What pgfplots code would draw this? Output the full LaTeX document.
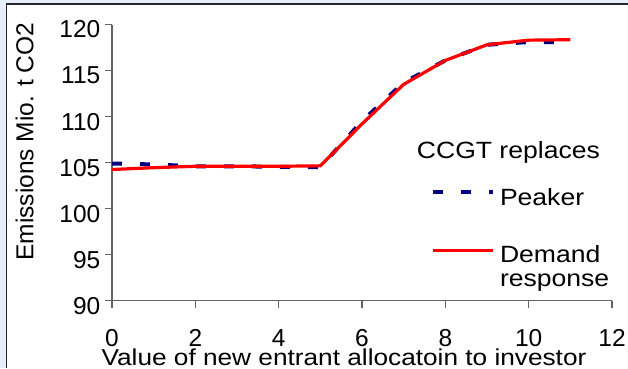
\documentclass[border=0pt]{standalone}
\usepackage{fontspec}
\setmainfont{Liberation Sans}
\usepackage{graphicx}
\usepackage{pgfplots}
\pgfplotsset{compat=1.18}
\definecolor{peaker}{RGB}{0,0,128}
\definecolor{dr}{RGB}{255,0,0}
\definecolor{framebg}{RGB}{230,238,250}
\definecolor{axisgray}{RGB}{100,100,100}
\begin{document}
\begin{tikzpicture}
\useasboundingbox (0,0) rectangle (628pt,-368pt);
\fill[framebg] (0,0) rectangle (628pt,-368pt);
\fill[white] (6.8pt,-4pt) rectangle (628pt,-368pt);
\draw[black!85, line width=1.2pt] (6.8pt,-368pt) -- (6.8pt,-4pt) -- (628pt,-4pt);
\begin{axis}[
  at={(112pt,-300.7pt)}, anchor=south west,
  scale only axis, width=500pt, height=276.2pt,
  xmin=0, xmax=12, ymin=90, ymax=120,
  xtick={0,2,4,6,8,10,12}, ytick={90,95,100,105,110,115,120},
  axis lines*=left,
  axis line style={axisgray, line width=1.2pt},
  tick style={axisgray, line width=1.2pt},
  tick align=outside, major tick length=7pt,
  /pgf/number format/assume math mode=true,
  ticklabel style={font=\fontsize{24.5}{28}\selectfont, inner sep=0pt},
  yticklabel style={xshift=-4.5pt, yshift=-5pt},
  xticklabel style={yshift=-21.5pt},
  xlabel={\scalebox{1.14}[1]{Value of new entrant allocatoin to investor}},
  xlabel style={at={(axis description cs:0.464,-0.2350)}, anchor=base, font=\fontsize{23}{27}\selectfont, inner sep=0pt},
  ylabel={Emissions Mio. t CO2},
  ylabel style={at={(axis description cs:-0.1574,0.5757)}, anchor=base, font=\fontsize{24.5}{28}\selectfont, inner sep=0pt},
  legend style={at={(axis description cs:0.638,0.408)}, anchor=north west, draw=none, fill=none, inner sep=0pt, outer sep=0pt, row sep=39.4pt, column sep=5pt, font=\fontsize{23.5}{23.3}\selectfont, nodes={inner sep=0pt, anchor=base west}},
  legend image code/.code={\draw[#1] (0pt,12.7pt) -- (60pt,12.7pt);},
  clip=false,
]
\addplot[peaker, line width=4pt, dash pattern=on 10pt off 18pt] coordinates {
 (0,104.9) (1,104.8) (2,104.6) (3,104.6) (4,104.55) (5,104.5) (6,109.5) (7,113.7) (8,116.1) (9,117.8) (10,118.1) (11,118.1)};
\addlegendentry{\scalebox{1.13}[1]{Peaker}}
\addplot[dr, line width=3.2pt] coordinates {
 (0,104.25) (1,104.45) (2,104.6) (3,104.6) (4,104.6) (5,104.65) (6,109.2) (7,113.5) (8,116.1) (9,117.8) (10,118.3) (11,118.35)};
\addlegendentry{\scalebox{1.13}[1]{\begin{tabular}[t]{@{}l@{}}Demand\\response\end{tabular}}}
\end{axis}
\node[anchor=base west, font=\fontsize{23.5}{27}\selectfont, inner sep=0pt] at (416.7pt,-158.3pt) {\scalebox{1.13}[1]{CCGT replaces}};
\end{tikzpicture}
\end{document}
